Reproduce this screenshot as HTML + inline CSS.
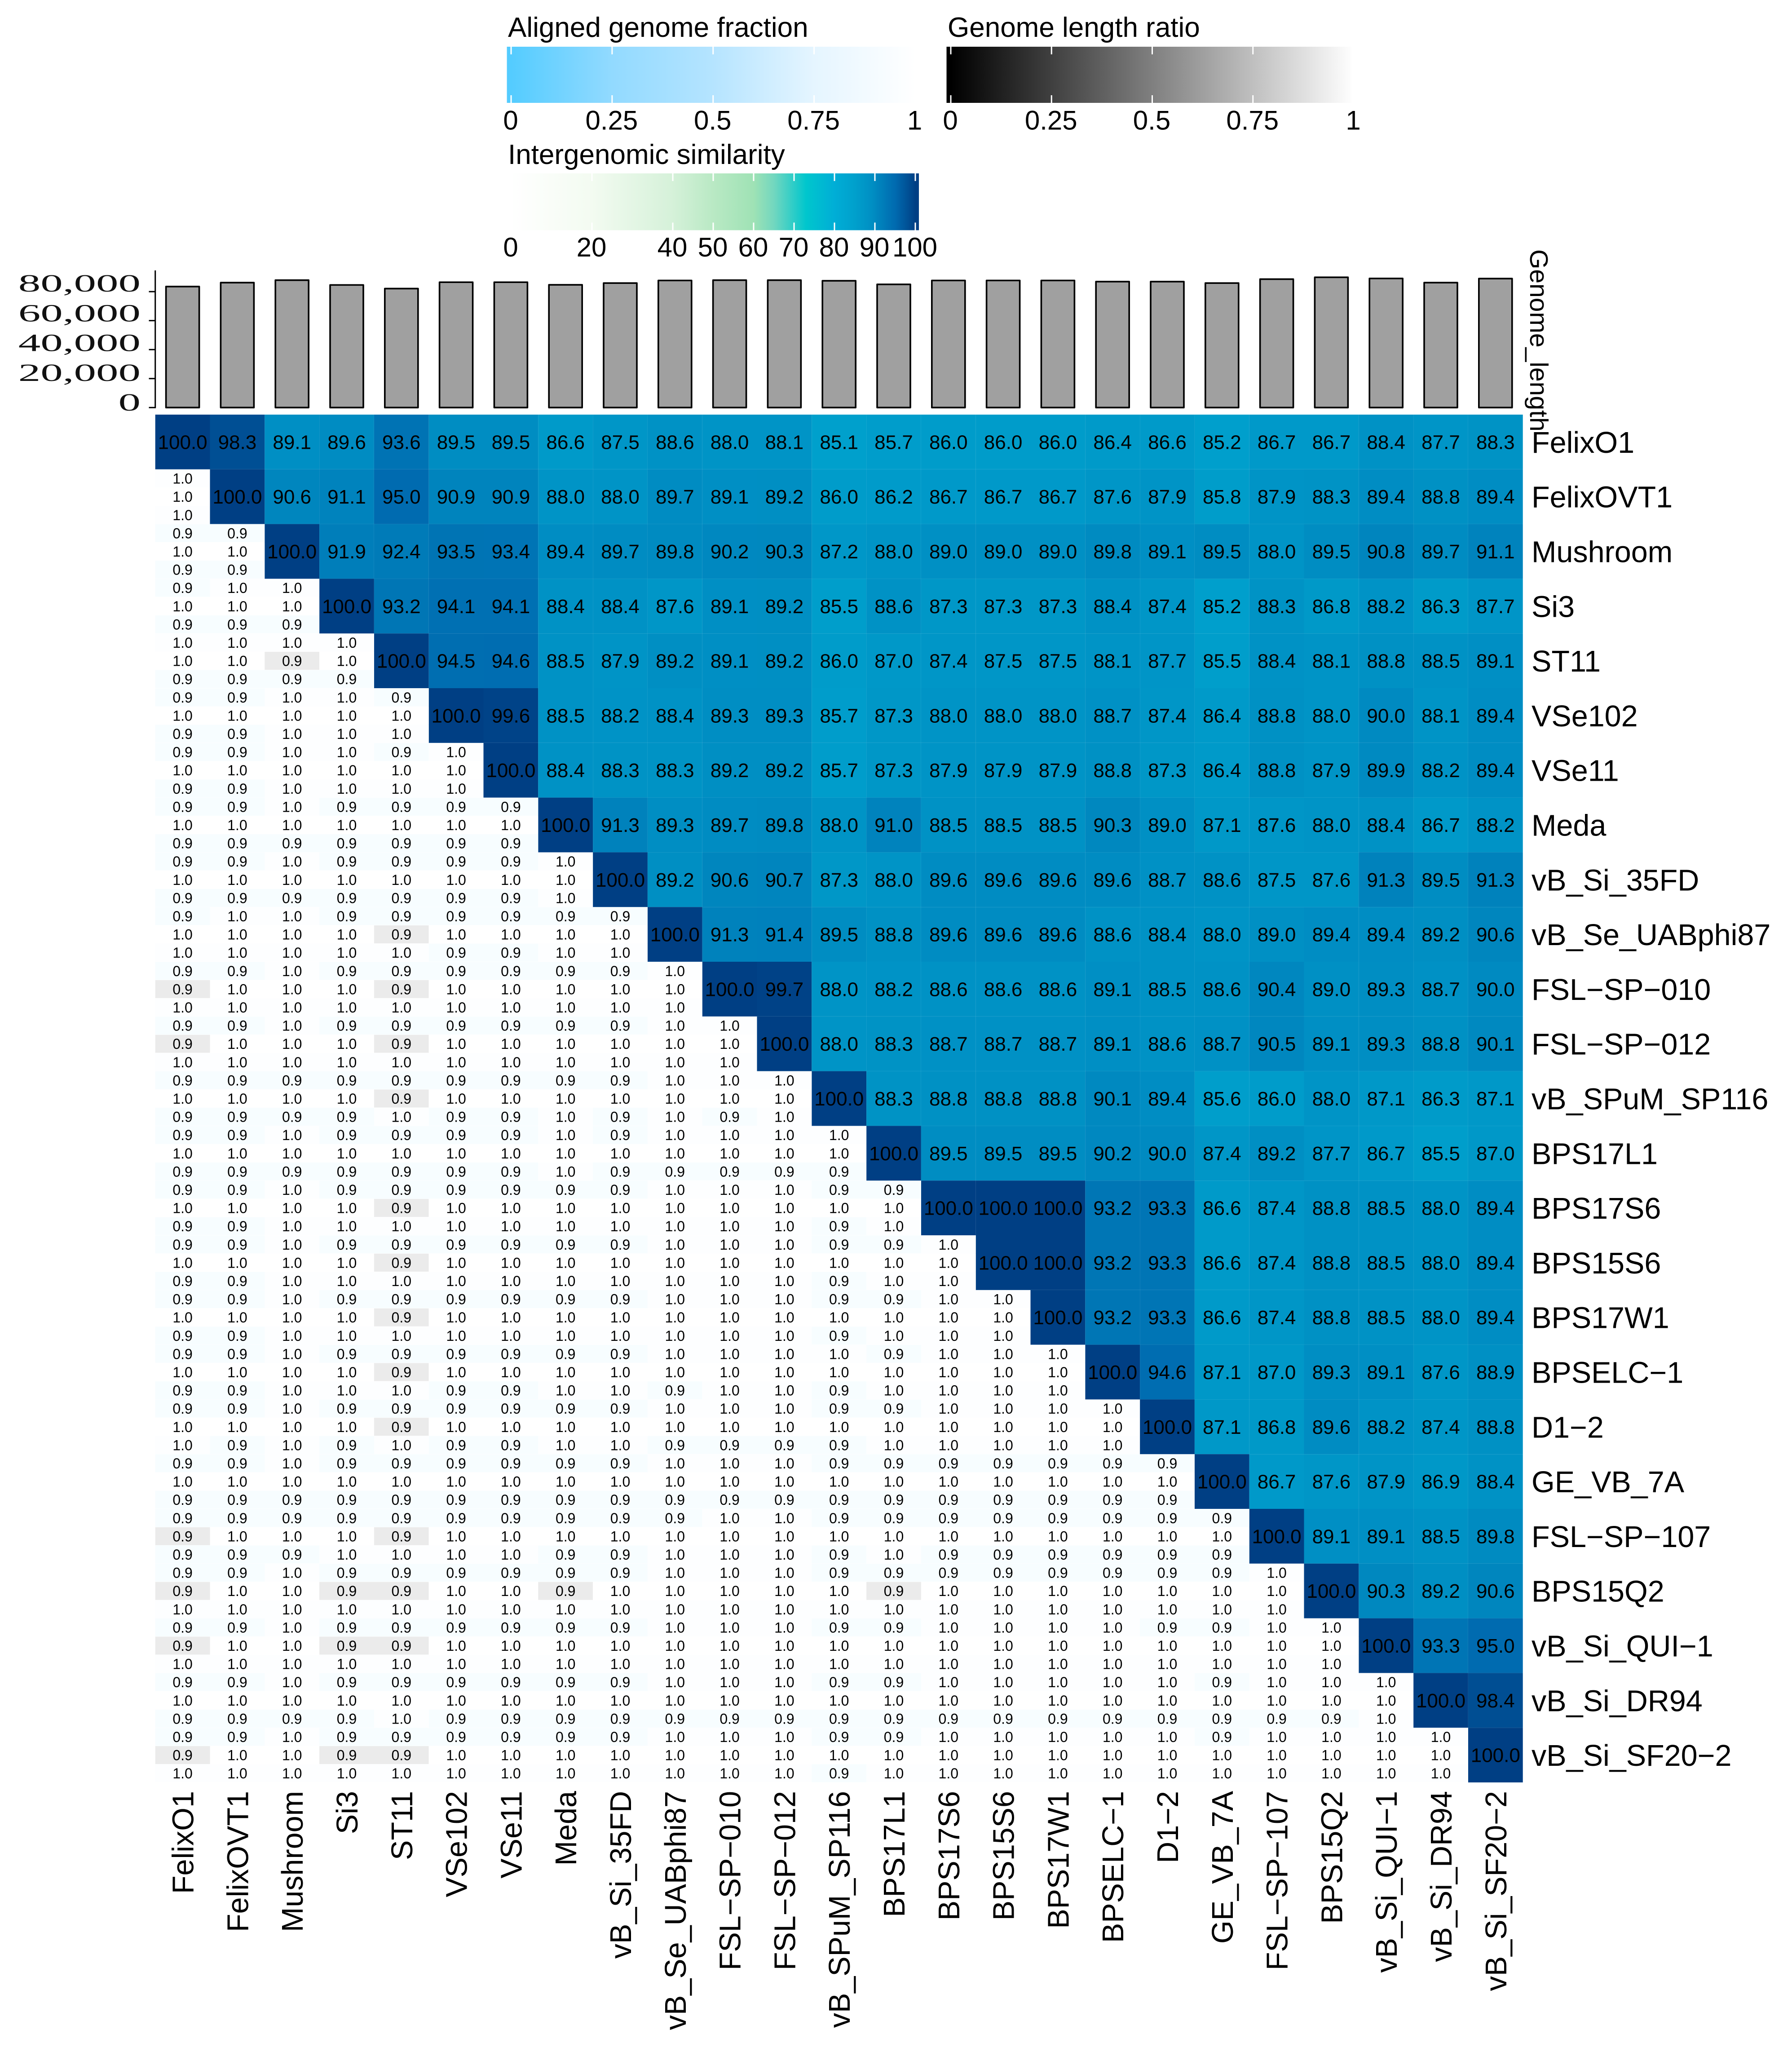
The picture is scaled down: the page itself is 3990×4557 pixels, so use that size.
<!DOCTYPE html>
<html lang="en">
<head>
<meta charset="utf-8">
<title>Intergenomic similarity heatmap</title>
<style>
html,body{margin:0;padding:0;background:#fff;width:3990px;height:4557px;overflow:hidden}
svg{display:block}
text{font-family:"Liberation Sans",Arial,sans-serif;fill:#000}
</style>
</head>
<body>
<svg id="chart" xmlns="http://www.w3.org/2000/svg" width="3990" height="4557" viewBox="0 0 3990 4557">
  <defs id="defs"></defs>
  <g id="legends"></g>
  <g id="bars"></g>
  <g id="heat"></g>
  <g id="labels"></g>
</svg>
<script>
const genomes = ["FelixO1","FelixOVT1","Mushroom","Si3","ST11","VSe102","VSe11","Meda","vB_Si_35FD","vB_Se_UABphi87","FSL\u2212SP\u2212010","FSL\u2212SP\u2212012","vB_SPuM_SP116","BPS17L1","BPS17S6","BPS15S6","BPS17W1","BPSELC\u22121","D1\u22122","GE_VB_7A","FSL\u2212SP\u2212107","BPS15Q2","vB_Si_QUI\u22121","vB_Si_DR94","vB_Si_SF20\u22122"];
const genomeLengths = [83500,86200,87900,84600,82100,86500,86500,84700,85900,87700,87900,87900,87500,85000,87700,87700,87700,86900,86900,85900,88600,89900,89100,86200,89000];
const lengthTicks = [0,20000,40000,60000,80000];
const fractionTicks = [0,0.25,0.5,0.75,1];
const similarityTicks = [0,20,40,50,60,70,80,90,100];
const simStopValues = [0,20,40,50,60,65,73,80,85,89,93.6,95,98.3,100];
const simStopColors = ["#ffffff","#f3fbf1","#d5f1d9","#b9e9c4","#9fe2b5","#72d7bf","#00c6cd","#00aed6","#00a0cc","#0090c4","#0073b4","#006bb0","#004f94","#003f84"];

const similarity = [
[100.0,98.3,89.1,89.6,93.6,89.5,89.5,86.6,87.5,88.6,88.0,88.1,85.1,85.7,86.0,86.0,86.0,86.4,86.6,85.2,86.7,86.7,88.4,87.7,88.3],
[100.0,90.6,91.1,95.0,90.9,90.9,88.0,88.0,89.7,89.1,89.2,86.0,86.2,86.7,86.7,86.7,87.6,87.9,85.8,87.9,88.3,89.4,88.8,89.4],
[100.0,91.9,92.4,93.5,93.4,89.4,89.7,89.8,90.2,90.3,87.2,88.0,89.0,89.0,89.0,89.8,89.1,89.5,88.0,89.5,90.8,89.7,91.1],
[100.0,93.2,94.1,94.1,88.4,88.4,87.6,89.1,89.2,85.5,88.6,87.3,87.3,87.3,88.4,87.4,85.2,88.3,86.8,88.2,86.3,87.7],
[100.0,94.5,94.6,88.5,87.9,89.2,89.1,89.2,86.0,87.0,87.4,87.5,87.5,88.1,87.7,85.5,88.4,88.1,88.8,88.5,89.1],
[100.0,99.6,88.5,88.2,88.4,89.3,89.3,85.7,87.3,88.0,88.0,88.0,88.7,87.4,86.4,88.8,88.0,90.0,88.1,89.4],
[100.0,88.4,88.3,88.3,89.2,89.2,85.7,87.3,87.9,87.9,87.9,88.8,87.3,86.4,88.8,87.9,89.9,88.2,89.4],
[100.0,91.3,89.3,89.7,89.8,88.0,91.0,88.5,88.5,88.5,90.3,89.0,87.1,87.6,88.0,88.4,86.7,88.2],
[100.0,89.2,90.6,90.7,87.3,88.0,89.6,89.6,89.6,89.6,88.7,88.6,87.5,87.6,91.3,89.5,91.3],
[100.0,91.3,91.4,89.5,88.8,89.6,89.6,89.6,88.6,88.4,88.0,89.0,89.4,89.4,89.2,90.6],
[100.0,99.7,88.0,88.2,88.6,88.6,88.6,89.1,88.5,88.6,90.4,89.0,89.3,88.7,90.0],
[100.0,88.0,88.3,88.7,88.7,88.7,89.1,88.6,88.7,90.5,89.1,89.3,88.8,90.1],
[100.0,88.3,88.8,88.8,88.8,90.1,89.4,85.6,86.0,88.0,87.1,86.3,87.1],
[100.0,89.5,89.5,89.5,90.2,90.0,87.4,89.2,87.7,86.7,85.5,87.0],
[100.0,100.0,100.0,93.2,93.3,86.6,87.4,88.8,88.5,88.0,89.4],
[100.0,100.0,93.2,93.3,86.6,87.4,88.8,88.5,88.0,89.4],
[100.0,93.2,93.3,86.6,87.4,88.8,88.5,88.0,89.4],
[100.0,94.6,87.1,87.0,89.3,89.1,87.6,88.9],
[100.0,87.1,86.8,89.6,88.2,87.4,88.8],
[100.0,86.7,87.6,87.9,86.9,88.4],
[100.0,89.1,89.1,88.5,89.8],
[100.0,90.3,89.2,90.6],
[100.0,93.3,95.0],
[100.0,98.4],
[100.0]
];

const alignedTop = [
[],
[1],
[.9,.9],
[.9,1,1],
[1,1,1,1],
[.9,.9,1,1,.9],
[.9,.9,1,1,.9,1],
[.9,.9,1,.9,.9,.9,.9],
[.9,.9,1,.9,.9,.9,.9,1],
[.9,1,1,.9,.9,.9,.9,.9,.9],
[.9,.9,1,.9,.9,.9,.9,.9,.9,1],
[.9,.9,1,.9,.9,.9,.9,.9,.9,1,1],
[.9,.9,.9,.9,.9,.9,.9,.9,.9,1,1,1],
[.9,.9,1,.9,.9,.9,.9,1,.9,1,1,1,1],
[.9,.9,1,.9,.9,.9,.9,.9,.9,1,1,1,.9,.9],
[.9,.9,1,.9,.9,.9,.9,.9,.9,1,1,1,.9,.9,1],
[.9,.9,1,.9,.9,.9,.9,.9,.9,1,1,1,.9,.9,1,1],
[.9,.9,1,.9,.9,.9,.9,.9,.9,1,1,1,1,.9,1,1,1],
[.9,.9,1,.9,.9,.9,.9,.9,.9,1,1,1,.9,.9,1,1,1,1],
[.9,.9,1,.9,.9,.9,.9,.9,.9,1,1,1,.9,.9,.9,.9,.9,.9,.9],
[.9,.9,.9,.9,.9,.9,.9,.9,.9,.9,1,1,.9,.9,.9,.9,.9,.9,.9,.9],
[.9,.9,1,.9,.9,.9,.9,.9,.9,1,1,1,.9,.9,.9,.9,.9,.9,.9,.9,1],
[.9,.9,1,.9,.9,.9,.9,.9,.9,1,1,1,.9,.9,1,1,1,1,.9,.9,1,1],
[.9,.9,1,.9,.9,.9,.9,.9,.9,1,1,1,.9,.9,1,1,1,1,1,.9,1,1,1],
[.9,.9,1,.9,.9,.9,.9,.9,.9,1,1,1,.9,.9,1,1,1,1,1,.9,1,1,1,1]
];

const lengthRatio = [
[],
[1],
[1,1],
[1,1,1],
[1,1,.9,1],
[1,1,1,1,1],
[1,1,1,1,1,1],
[1,1,1,1,1,1,1],
[1,1,1,1,1,1,1,1],
[1,1,1,1,.9,1,1,1,1],
[.9,1,1,1,.9,1,1,1,1,1],
[.9,1,1,1,.9,1,1,1,1,1,1],
[1,1,1,1,.9,1,1,1,1,1,1,1],
[1,1,1,1,1,1,1,1,1,1,1,1,1],
[1,1,1,1,.9,1,1,1,1,1,1,1,1,1],
[1,1,1,1,.9,1,1,1,1,1,1,1,1,1,1],
[1,1,1,1,.9,1,1,1,1,1,1,1,1,1,1,1],
[1,1,1,1,.9,1,1,1,1,1,1,1,1,1,1,1,1],
[1,1,1,1,.9,1,1,1,1,1,1,1,1,1,1,1,1,1],
[1,1,1,1,1,1,1,1,1,1,1,1,1,1,1,1,1,1,1],
[.9,1,1,1,.9,1,1,1,1,1,1,1,1,1,1,1,1,1,1,1],
[.9,1,1,.9,.9,1,1,.9,1,1,1,1,1,.9,1,1,1,1,1,1,1],
[.9,1,1,.9,.9,1,1,1,1,1,1,1,1,1,1,1,1,1,1,1,1,1],
[1,1,1,1,1,1,1,1,1,1,1,1,1,1,1,1,1,1,1,1,1,1,1],
[.9,1,1,.9,.9,1,1,1,1,1,1,1,1,1,1,1,1,1,1,1,1,1,1,1]
];

const alignedBottom = [
[],
[1],
[.9,.9],
[.9,.9,.9],
[.9,.9,.9,.9],
[.9,.9,1,1,1],
[.9,.9,1,1,1,1],
[.9,.9,.9,.9,.9,.9,.9],
[.9,.9,.9,.9,.9,.9,.9,1],
[1,1,1,1,1,.9,.9,1,1],
[1,1,1,1,1,1,1,1,1,1],
[1,1,1,1,1,1,1,1,1,1,1],
[.9,.9,.9,.9,1,.9,.9,1,.9,1,.9,1],
[.9,.9,.9,.9,.9,.9,.9,1,.9,.9,.9,.9,.9],
[.9,.9,1,1,1,1,1,1,1,1,1,1,.9,1],
[.9,.9,1,1,1,1,1,1,1,1,1,1,.9,1,1],
[.9,.9,1,1,1,1,1,1,1,1,1,1,.9,1,1,1],
[.9,.9,1,1,1,.9,.9,1,1,.9,1,1,.9,1,1,1,1],
[1,.9,1,.9,1,.9,.9,1,1,.9,.9,.9,.9,1,1,1,1,1],
[.9,.9,.9,.9,.9,.9,.9,.9,.9,.9,.9,.9,.9,.9,.9,.9,.9,.9,.9],
[.9,.9,.9,1,1,1,1,.9,.9,1,1,1,.9,1,.9,.9,.9,.9,.9,.9],
[1,1,1,1,1,1,1,1,1,1,1,1,1,1,1,1,1,1,1,1,1],
[1,1,1,1,1,1,1,1,1,1,1,1,1,1,1,1,1,1,1,1,1,1],
[.9,.9,.9,.9,1,.9,.9,.9,.9,.9,.9,.9,.9,.9,.9,.9,.9,.9,.9,.9,.9,.9,1],
[1,1,1,1,1,1,1,1,1,1,1,1,.9,1,1,1,1,1,1,1,1,1,1,1]
];

const NS = "http://www.w3.org/2000/svg";
const plotLeft = 345.7, plotTop = 923, cell = 121.8;
const barZeroY = 907.3, barPxPerUnit = 0.003226;

function xCell(c){ return plotLeft + c * cell; }
function yCell(r){ return plotTop + r * cell; }
function yBar(v){ return barZeroY - v * barPxPerUnit; }
function yBarLabel(v){ return 914 - v * 0.0033125; }
function xFrac(v){ return 1138 + v * 899.5; }
function xSim(v){ return 1138 + v * 9; }

function hex(c){ return [1,3,5].map(function(i){ return parseInt(c.substr(i,2),16); }); }
function mix(a,b,t){
  const A = hex(a), B = hex(b);
  return "rgb(" + A.map(function(x,i){ return Math.round(x + (B[i]-x)*t); }).join(",") + ")";
}
function simColor(v){
  for(let i = 1; i < simStopValues.length; i++){
    if(v <= simStopValues[i]){
      const t = (v - simStopValues[i-1]) / (simStopValues[i] - simStopValues[i-1]);
      return mix(simStopColors[i-1], simStopColors[i], t);
    }
  }
  return simStopColors[simStopColors.length-1];
}
function fractionColor(v){ return mix("#ffffff", "#54ccff", Math.max(0, 1 - v) * 0.35 + 0.012); }
function ratioColor(v){ return mix("#ffffff", "#000000", Math.max(0, 1 - v) * 0.8); }

function el(parent, tag, attrs, txt){
  const n = document.createElementNS(NS, tag);
  for(const k in attrs){ n.setAttribute(k, attrs[k]); }
  if(txt !== undefined){ n.textContent = txt; }
  parent.appendChild(n);
  return n;
}

const defs = document.getElementById("defs");
function gradient(id, x1, x2, stops){
  const g = el(defs, "linearGradient", {id:id, gradientUnits:"userSpaceOnUse", x1:x1, x2:x2, y1:0, y2:0});
  stops.forEach(function(s){ el(g, "stop", {offset:s[0], "stop-color":s[1]}); });
}
gradient("grad-fraction", 1138, 2037.5, [[0,"#54ccff"],[0.25,"#92daff"],[0.5,"#b5e4ff"],[0.75,"#e5f5ff"],[1,"#ffffff"]]);
gradient("grad-ratio", 2117, 3014, [[0,"#000000"],[1,"#ffffff"]]);
gradient("grad-sim", 1138, 2038, simStopValues.map(function(v,i){ return [v/100, simStopColors[i]]; }));

const legends = document.getElementById("legends");
function drawLegend(name, title, tx, ty, left, right, top, bottom, fill, ticks, xf, labelY, tickColor){
  const t = el(legends, "text", {x:tx, y:ty, "font-size":62}, title);
  
  
  const r = el(legends, "rect", {x:left, y:top, width:right-left, height:bottom-top, fill:fill});
  
  
  ticks.forEach(function(v){
    const x = xf(v);
    const a = el(legends, "line", {x1:x, x2:x, y1:top, y2:top+17, stroke:tickColor, "stroke-width":3});
    
    
    const b = el(legends, "line", {x1:x, x2:x, y1:bottom-17, y2:bottom, stroke:tickColor, "stroke-width":3});
    
    
    const l = el(legends, "text", {x:x-1, y:labelY, "font-size":60, "text-anchor":"middle"}, String(v));
    
    
  });
}
drawLegend("aligned-fraction", "Aligned genome fraction", 1131, 82, 1128.6, 2046, 104, 229, "url(#grad-fraction)", fractionTicks, xFrac, 288.6, "#ffffff");
drawLegend("length-ratio", "Genome length ratio", 2110, 82, 2107.5, 3010, 104, 229, "url(#grad-ratio)", fractionTicks, function(v){ return 2117 + v * 897; }, 288.6, "#ffffff");
drawLegend("similarity", "Intergenomic similarity", 1131, 365, 1128.6, 2046, 386, 512.5, "url(#grad-sim)", similarityTicks, xSim, 571, "#ffffff");

const bars = document.getElementById("bars");
const axisLine = el(bars, "line", {x1:plotLeft, x2:plotLeft, y1:602, y2:barZeroY+1.5, stroke:"#000", "stroke-width":3});


lengthTicks.forEach(function(v){
  const y = yBar(v);
  const t = el(bars, "line", {x1:331.5, x2:plotLeft, y1:y, y2:y, stroke:"#000", "stroke-width":3});
  
  
  const g = el(bars, "text", {transform:"translate(313," + yBarLabel(v) + ") scale(1.8,1)", "font-size":55, "text-anchor":"end", style:'font-family:"Liberation Serif",serif;fill:#111'}, v.toLocaleString("en-US"));
  
  
});
genomeLengths.forEach(function(v,i){
  const cx = xCell(i) + cell/2;
  const top = yBar(v);
  const b = el(bars, "rect", {x:cx-37, y:top, width:74, height:barZeroY-top, fill:"#a0a0a0", stroke:"#000", "stroke-width":3.6, "stroke-linejoin":"round"});
  
  
});
const barTitle = el(bars, "text", {transform:"translate(3407,555) rotate(90)", "font-size":57}, "Genome_length");



const heat = document.getElementById("heat");
similarity.forEach(function(row,r){
  row.forEach(function(v,k){
    const c = r + k;
    const rect = el(heat, "rect", {x:xCell(c), y:yCell(r), width:cell, height:cell, fill:simColor(v)});
    
    
    const t = el(heat, "text", {x:xCell(c)+cell/2, y:yCell(r)+cell/2+15.5, "font-size":44, "text-anchor":"middle"}, v.toFixed(1));
    
    
  });
});
function drawBand(table, offset, colorFn, name){
  table.forEach(function(row,r){
    row.forEach(function(v,c){
      const top = yCell(r) + offset * cell / 3;
      const rect = el(heat, "rect", {x:xCell(c), y:top+0.3, width:cell, height:cell/3-0.6, fill:colorFn(v)});
      
      
      const t = el(heat, "text", {x:xCell(c)+cell/2, y:top+cell/6+11.5, "font-size":32, "text-anchor":"middle"}, v.toFixed(1));
      
      
    });
  });
}
drawBand(alignedTop, 0, fractionColor, "aligned-fraction-top");
drawBand(lengthRatio, 1, ratioColor, "length-ratio");
drawBand(alignedBottom, 2, fractionColor, "aligned-fraction-bottom");

const labels = document.getElementById("labels");
genomes.forEach(function(n,i){
  const rl = el(labels, "text", {x:3410, y:yCell(i)+cell/2+24, "font-size":66.5}, n);
  
  
  const cxp = xCell(i)+cell/2+24;
  const cl = el(labels, "text", {transform:"translate(" + cxp + ",3987) rotate(-90)", "font-size":66.5, "text-anchor":"end"}, n);
  
  
});
</script>
</body>
</html>
